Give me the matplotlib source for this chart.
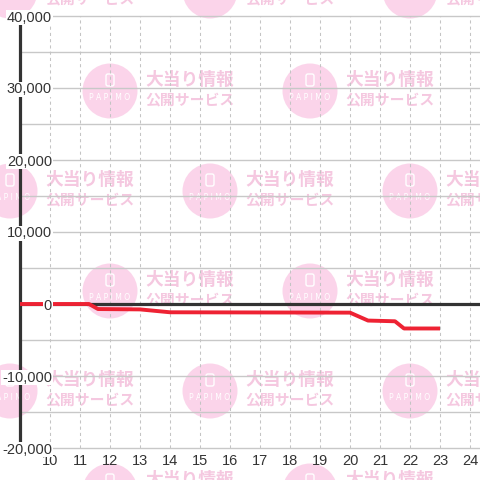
import matplotlib
matplotlib.use("Agg")
import matplotlib.pyplot as plt
from matplotlib.patches import Circle, FancyBboxPatch

# ---- data ----
hours = [9.0, 11.3, 11.6, 13.0, 14.0, 20.0, 20.6, 21.5, 21.8, 23.0]
values = [0, 0, -700, -750, -1150, -1200, -2300, -2400, -3400, -3400]
x_ticks = list(range(10, 25))
x_tick_labels = [str(h) for h in x_ticks]
y_ticks = [40000, 30000, 20000, 10000, 0, -10000, -20000]
y_tick_labels = ["40,000", "30,000", "20,000", "10,000", "0", "-10,000", "-20,000"]
y_grid = list(range(-20000, 40001, 5000))

W = 480
fig = plt.figure(figsize=(4.8, 4.8), dpi=100)
fig.patch.set_facecolor("white")

# ---- watermark (figure background) ----
pink_circle = "#fbd4ea"
pink_text = "#f5c8e0"
def px(x, y):
    return (x / W, 1 - y / W)

for row, cy in enumerate(range(-9, 500, 100)):
    xs = [10, 210, 410] if row % 2 == 0 else [110, 310, 510]
    for cx in xs:
        fig.add_artist(Circle(px(cx, cy), 27.5 / W, transform=fig.transFigure,
                              facecolor=pink_circle, edgecolor="none", zorder=-2))
        fig.add_artist(FancyBboxPatch(px(cx - 4, cy - 5), 8 / W, 12 / W,
                                      boxstyle="round,pad=0,rounding_size=0.004",
                                      transform=fig.transFigure, facecolor="none",
                                      edgecolor="white", linewidth=1.0, zorder=-1.5))
        fig.text(*px(cx, cy + 6.5), "P A P I M O", color="white", fontsize=5.5,
                 ha="center", va="center",
                 family="DejaVu Sans", zorder=-1.5)
        fig.text(*px(cx + 35, cy - 11.5), "大当り情報", color=pink_text, fontsize=12.8,
                 fontweight="bold", ha="left", va="center",
                 family=["Noto Sans CJK JP", "DejaVu Sans"], zorder=-1.5)
        fig.text(*px(cx + 35, cy + 8), "公開サービス", color=pink_text, fontsize=10.7,
                 fontweight="bold", ha="left", va="center",
                 family=["Noto Sans CJK JP", "DejaVu Sans"], zorder=-1.5)

# ---- axes ----
ax = fig.add_axes([20 / W, 32 / W, 460 / W, 432 / W])
ax.set_facecolor("none")
ax.set_xlim(9.0, 9.0 + 460 / 30)
ax.set_ylim(-20000, 40000)

for s in ["top", "right", "bottom"]:
    ax.spines[s].set_visible(False)
ax.spines["left"].set_color("#333333")
ax.spines["left"].set_linewidth(2.3)
ax.spines["left"].set_zorder(3)

for g in y_grid:
    ax.axhline(g, color="#c8c8c8", lw=1.0, zorder=1, clip_on=False)
for h in x_ticks:
    ax.axvline(h, color="#c4c4c4", lw=0.75, ls=(0, (3, 3)), zorder=1)

ax.axhline(0, color="#333333", lw=2.3, zorder=3)
ax.plot(hours, values, color="#ee2233", lw=2.8, zorder=4,
        solid_joinstyle="round", solid_capstyle="butt")

font = "Liberation Sans"
ax.set_xticks(x_ticks)
ax.set_xticklabels(x_tick_labels, fontsize=10.5, color="#333333", family=font)
ax.tick_params(axis="x", length=0, pad=4.5)

ax.set_yticks(y_ticks)
ax.set_yticklabels(y_tick_labels, fontsize=10.5, color="#333333", family=font)
ax.tick_params(axis="y", length=0, pad=-23)
for lab in ax.get_yticklabels():
    lab.set_bbox(dict(facecolor="white", edgecolor="none", pad=0.5))
ax.yaxis.set_zorder(5)
ax.xaxis.set_zorder(5)

fig.savefig("out.png", dpi=100, facecolor="white")
